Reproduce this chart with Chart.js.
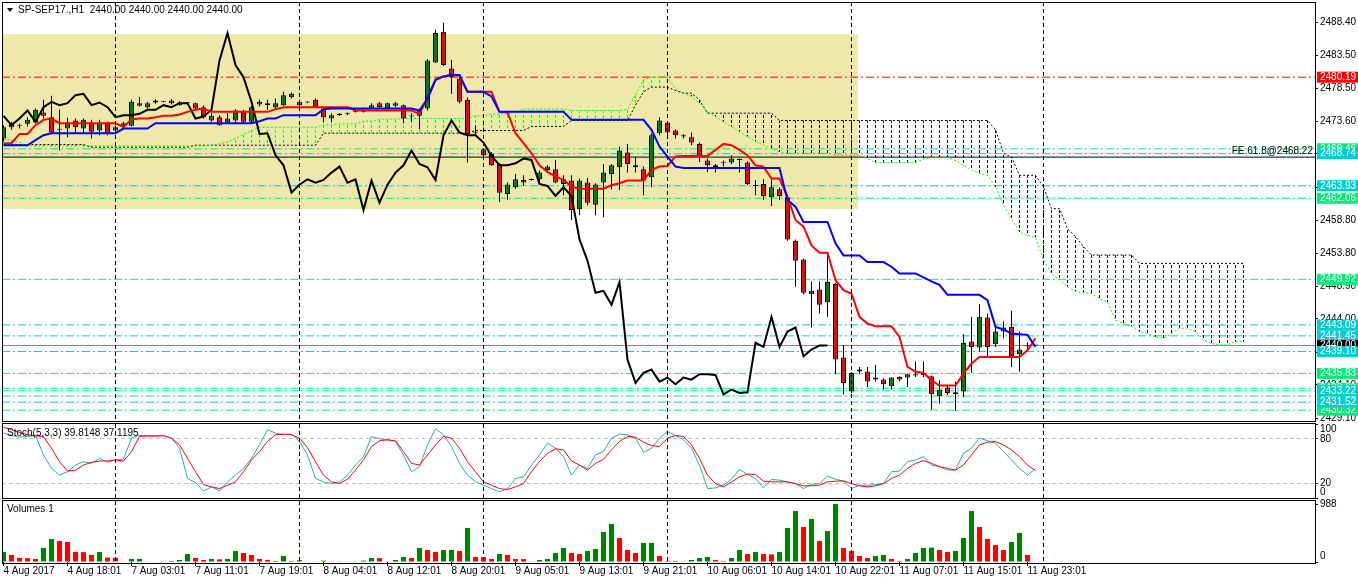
<!DOCTYPE html>
<html><head><meta charset="utf-8">
<script src="https://cdn.jsdelivr.net/npm/chart.js@4.4.0/dist/chart.umd.min.js"></script>
<style>
html,body{margin:0;padding:0;background:#fff;}
#wrap{position:relative;width:1358px;height:584px;overflow:hidden;background:#fff;font-family:'Liberation Sans',Arial,sans-serif;}
canvas{position:absolute;left:0;}
.frame{position:absolute;box-sizing:border-box;border:1px solid #000;pointer-events:none;}
.lbl{position:absolute;font-size:10px;line-height:13px;color:#000;white-space:pre;}
.tri{position:absolute;left:7px;top:8px;width:0;height:0;border-left:3px solid transparent;border-right:3px solid transparent;border-top:4px solid #000;}
</style></head><body>
<div id="wrap">
<canvas id="cMain" width="1358" height="425" style="top:0px"></canvas>
<canvas id="cStoch" width="1358" height="80" style="top:421px"></canvas>
<canvas id="cVol" width="1358" height="85" style="top:499px"></canvas>
<div class="frame" style="left:2px;top:2px;width:1314px;height:420px"></div>
<div class="frame" style="left:2px;top:423px;width:1314px;height:76px"></div>
<div class="frame" style="left:2px;top:500px;width:1314px;height:64px"></div>
<div class="tri"></div>
<div class="lbl" style="left:18px;top:3px">SP-SEP17.,H1  2440.00 2440.00 2440.00 2440.00</div>
<div class="lbl" style="right:45px;top:144px">FE 61.8@2468.22</div>
<div class="lbl" style="left:7px;top:426px">Stoch(5,3,3) 39.8148 37.1195</div>
<div class="lbl" style="left:7px;top:502px">Volumes 1</div>
</div>
<script>
// ---------------- DATA ----------------
const opens = [2471.0,2473.2,2472.9,2473.2,2473.4,2474.9,2474.2,2472.3,2472.5,2473.7,
2472.5,2473.4,2472.2,2473.4,2472.2,2472.9,2472.9,2476.3,2475.7,2476.4,
2476.5,2476.7,2476.4,2476.3,2476.3,2475.7,2473.7,2474.2,2473.4,2473.7,
2475.0,2473.5,2476.1,2476.3,2475.7,2476.0,2477.2,2476.5,2476.4,2476.8,
2475.5,2474.0,2474.7,2474.7,2475.0,2475.0,2475.5,2476.3,2475.5,2475.9,
2476.0,2474.3,2474.4,2475.5,2482.4,2487.0,2481.5,2480.0,2476.8,2471.8,
2469.4,2468.7,2467.2,2462.7,2463.7,2464.8,2464.8,2464.9,2466.3,2466.4,
2464.2,2464.7,2460.4,2464.4,2461.1,2464.4,2465.7,2466.7,2468.9,2467.0,
2466.4,2465.2,2471.8,2473.4,2472.2,2471.3,2471.2,2470.2,2467.7,2466.7,
2467.3,2467.4,2467.8,2467.4,2463.9,2464.2,2462.2,2463.4,2462.2,2455.7,
2452.9,2447.7,2448.4,2446.5,2449.2,2438.2,2433.1,2436.1,2436.1,2434.9,
2434.9,2433.9,2435.3,2435.2,2435.5,2435.9,2435.4,2432.4,2433.7,2432.7,
2433.1,2440.6,2439.7,2444.2,2440.2,2442.1,2442.8,2438.7,2439.9,2440.0];
const highs = [2473.0,2473.5,2473.2,2474.2,2475.5,2476.8,2477.4,2475.3,2474.1,2474.0,
2474.0,2473.8,2473.8,2473.5,2472.9,2473.5,2476.8,2477.2,2476.5,2476.9,
2476.6,2476.9,2476.6,2476.4,2476.4,2476.0,2474.8,2474.5,2474.8,2475.4,
2475.3,2475.9,2476.8,2476.8,2477.0,2478.0,2477.9,2476.8,2476.5,2477.0,
2475.7,2474.8,2474.8,2474.9,2475.5,2475.5,2476.3,2476.5,2476.4,2476.5,
2476.1,2474.8,2475.5,2482.9,2487.3,2488.35,2482.8,2480.2,2477.2,2473.0,
2469.6,2469.0,2467.3,2464.4,2465.7,2465.5,2465.0,2466.2,2467.0,2467.8,
2465.5,2465.5,2465.0,2465.1,2464.3,2467.2,2467.2,2469.8,2470.2,2468.3,
2466.8,2471.8,2474.2,2473.5,2472.4,2471.7,2471.9,2470.4,2468.0,2467.2,
2467.7,2468.5,2468.0,2467.6,2464.8,2464.9,2464.9,2463.7,2462.4,2455.9,
2453.0,2449.6,2449.6,2453.6,2449.4,2440.1,2436.0,2436.8,2436.8,2437.1,
2435.1,2435.3,2435.4,2435.8,2437.6,2437.6,2435.5,2434.8,2434.1,2434.6,
2441.7,2444.3,2446.2,2444.8,2442.8,2443.6,2445.2,2442.1,2440.5,2440.0];
const lows = [2470.6,2472.3,2472.5,2472.8,2473.3,2474.0,2471.8,2469.2,2471.2,2471.8,
2471.8,2471.0,2471.5,2471.5,2472.0,2472.7,2472.8,2475.8,2475.5,2476.2,
2476.4,2476.1,2475.9,2476.2,2475.3,2474.0,2473.5,2472.9,2473.3,2473.2,
2473.2,2473.3,2475.8,2475.3,2475.5,2475.9,2477.0,2475.8,2476.3,2475.6,
2473.4,2473.4,2474.4,2474.5,2474.9,2474.9,2475.4,2475.5,2475.4,2475.7,
2473.3,2473.5,2472.4,2475.2,2482.3,2481.9,2477.7,2476.3,2467.4,2471.5,
2468.3,2466.9,2461.5,2461.8,2463.5,2463.9,2464.7,2464.3,2466.0,2464.3,
2462.5,2458.8,2459.5,2461.0,2459.5,2459.2,2463.4,2463.3,2465.9,2465.9,
2462.5,2463.7,2471.5,2471.4,2471.0,2471.0,2470.0,2467.5,2466.0,2465.9,
2466.8,2467.2,2465.9,2464.0,2462.5,2461.8,2460.9,2461.8,2455.7,2448.8,
2447.7,2442.7,2444.8,2444.3,2435.7,2432.7,2432.9,2435.7,2433.8,2434.6,
2433.4,2433.4,2434.6,2433.8,2435.3,2435.3,2430.4,2431.3,2432.6,2430.2,
2432.3,2435.9,2439.1,2438.3,2439.8,2441.1,2436.8,2436.1,2439.5,2440.0];
const closes = [2472.7,2472.7,2472.9,2473.8,2475.3,2474.4,2471.9,2472.3,2473.4,2472.7,
2473.8,2472.0,2473.3,2471.8,2472.7,2473.3,2476.5,2475.9,2476.3,2476.7,
2476.5,2476.3,2476.0,2476.3,2475.5,2474.2,2474.4,2473.0,2474.0,2475.2,
2473.5,2475.7,2476.5,2476.0,2476.3,2477.5,2477.7,2476.0,2476.4,2475.7,
2474.2,2474.5,2474.5,2474.7,2475.3,2475.3,2476.0,2475.7,2476.3,2476.3,
2474.0,2474.3,2475.3,2482.7,2486.8,2482.0,2480.2,2476.5,2471.7,2471.8,
2468.5,2467.0,2462.9,2464.1,2464.9,2464.4,2464.8,2465.9,2466.8,2464.4,
2464.9,2460.3,2464.7,2461.4,2464.1,2465.9,2467.0,2469.2,2467.2,2466.7,
2464.8,2471.5,2473.7,2471.9,2471.5,2471.5,2470.4,2468.4,2467.0,2467.0,
2467.3,2468.0,2467.8,2464.2,2463.9,2462.4,2463.7,2462.4,2455.9,2452.7,
2447.9,2448.2,2446.1,2449.5,2437.9,2434.4,2435.9,2436.4,2434.6,2435.2,
2434.2,2435.2,2434.9,2435.7,2435.7,2435.6,2432.7,2433.4,2432.9,2433.0,
2440.4,2439.8,2444.3,2439.8,2442.1,2442.7,2438.4,2439.4,2440.0,2440.0];

const tenkan = [2470.3,2470.3,2471.7,2471.7,2473.0,2473.8,2474.0,
2473.3,2473.3,2473.3,2473.3,2473.3,2473.3,2473.3,2473.3,
2472.7,2473.9,2474.0,2474.0,2474.2,2474.4,2474.4,2474.6,2475.0,2475.3,2475.5,
2475.0,2475.0,2475.0,2475.0,2475.0,2475.0,2475.0,2475.0,
2475.4,
2475.7,2475.7,2475.7,2475.7,2475.7,2475.7,2475.7,2475.7,2475.7,
2475.2,2475.2,2475.2,2475.2,2475.2,2475.2,2475.2,2475.2,
2474.7,2477.0,2479.8,2480.3,2480.5,2480.4,
2478.0,2478.0,2478.0,2478.0,
2475.0,2474.9,2471.8,2470.3,2468.8,2467.0,2466.0,2465.3,2464.8,2463.8,
2463.5,2463.5,2463.5,2463.5,
2464.0,2464.3,
2464.7,2464.7,2464.7,
2466.3,2466.8,2466.9,2468.3,
2468.4,2468.4,2468.4,2468.4,
2469.3,2470.2,2470.0,2469.3,2468.5,2467.0,2466.8,2465.0,2465.0,2462.3,
2458.8,2457.8,2455.0,2453.9,2453.9,2449.8,2448.3,2447.8,2444.3,2443.3,
2442.9,2442.9,2442.9,
2441.3,2436.8,2436.1,2435.9,2434.8,
2434.0,2434.0,2434.0,
2435.8,2437.3,
2438.3,2438.3,2438.3,2438.3,2438.3,2438.3,
2439.3,2441.1];

const kijun = [2470.0,2470.0,2470.0,2470.0,2470.75,2471.5,
2471.8,2471.8,2471.8,2471.8,2471.8,2471.8,2471.8,2471.8,2471.8,
2472.5,2472.5,2472.5,2472.5,
2473.3,2473.3,2473.3,2473.3,2473.3,2473.3,2473.3,2473.3,2473.3,2473.3,2473.3,2473.3,2473.3,
2473.6,2474.0,2474.0,
2474.5,2474.5,2474.5,2474.5,2474.5,
2475.4,
2475.5,2475.5,2475.5,2475.5,2475.5,2475.5,2475.5,2475.5,2475.5,2475.5,2475.5,
2475.2,2477.0,2479.8,2480.3,2480.5,2480.5,
2478.0,2478.0,2478.0,2477.3,
2475.0,2475.0,2475.0,2475.0,2475.0,2475.0,2475.0,2475.0,2475.0,
2473.8,2473.8,2473.8,2473.8,2473.8,2473.8,2473.8,2473.8,2473.8,2473.8,
2472.3,2469.8,2468.3,2466.8,
2466.6,2466.6,2466.6,2466.6,2466.6,2466.6,2466.6,2466.6,2466.6,2466.6,2466.6,2466.6,2466.6,
2461.8,2460.8,
2458.5,2458.5,2458.5,2458.5,
2455.3,2453.5,2453.5,2453.5,
2452.5,2452.5,2452.5,2451.8,
2450.8,2450.8,2450.8,2450.2,2449.6,2449.1,
2447.6,2447.6,2447.6,2447.6,2447.6,
2446.8,2442.8,2442.4,2441.8,2441.7,2441.6,2439.8];

const spanA = [2470.8,2470.8,2470.4,
2469.9,2469.9,2469.9,2469.9,2469.9,2469.9,2469.9,2469.9,2469.9,2469.9,2469.9,2469.9,
2469.9,2469.9,2469.9,2469.9,2469.9,2469.9,2469.9,2469.9,2469.9,2469.9,2469.9,
2470.0,2470.2,2470.5,2471.0,2471.6,2472.2,
2472.7,2472.7,2472.7,2472.7,2472.7,2472.7,2472.7,2472.7,
2473.0,2473.1,2473.2,2473.2,2473.2,2473.6,2473.6,2473.9,2473.9,2473.9,
2474.0,2474.0,2474.0,2474.0,2474.0,2474.0,2474.0,2474.0,2474.0,
2474.4,2474.4,2474.7,2474.7,2474.7,2475.0,
2475.4,2475.4,2475.4,2475.4,2475.4,2475.4,
2475.2,2475.2,2475.2,2475.2,2475.2,2475.2,2475.2,
2475.4,2477.5,2479.8,2480.2,2480.2,2480.2,
2478.4,2477.8,2477.3,2476.3,2475.0,2474.3,2473.5,2472.8,2472.0,2471.3,2470.6,2470.0,2469.5,2469.0,
2468.8,2468.8,2468.8,2468.8,2468.8,2468.8,
2468.5,2468.5,2468.5,2468.5,2468.0,
2467.4,2467.4,2467.4,2467.4,2467.4,2467.4,
2467.9,2468.2,2468.2,2468.2,
2467.7,2467.0,2466.3,2465.8,2465.5,2463.8,2461.0,2459.0,2457.0,2456.5,2456.2,
2452.8,2450.8,2449.8,2448.8,2448.1,2447.9,2447.8,2447.0,2446.5,2443.8,
2443.3,2442.9,2442.1,2441.8,2441.3,2441.1,2441.8,2442.6,2442.6,2442.1,
2440.8,2440.3,2440.1,2440.1,2440.6,2440.6];

const spanB = [2470.1,2470.1,2470.1,2470.1,2470.1,2470.1,2470.1,2470.1,2470.1,2470.1,2470.1,
2469.7,2469.7,2469.7,2469.7,2469.7,2469.7,2469.7,2469.7,2469.7,2469.7,2469.7,2469.7,2469.7,
2470.0,2470.0,2470.0,2470.0,2470.0,2470.0,2470.0,2470.0,2470.0,2470.0,2470.0,2470.0,2470.0,2470.0,2470.0,2470.0,
2471.8,2471.8,2471.8,2471.8,2471.8,2471.8,2471.8,2471.8,2471.8,2471.8,
2471.8,2471.8,2471.8,2471.8,2471.8,2471.8,2471.8,2471.8,2471.8,
2472.2,2472.2,2472.2,2472.2,2472.2,2472.2,2472.2,
2472.8,2472.8,2472.8,2472.8,2472.8,
2473.7,2473.7,2473.7,2473.7,2473.7,2473.7,2473.7,2473.7,
2476.0,2478.0,2478.7,2478.7,2478.7,2478.2,2477.8,2477.8,2476.8,
2474.8,2474.8,2474.8,2474.8,2474.8,2474.8,2474.8,2474.8,2474.8,
2473.7,2473.7,2473.7,2473.7,2473.7,2473.7,2473.7,2473.7,2473.7,2473.7,
2473.7,2473.7,2473.7,2473.7,2473.7,2473.7,2473.7,2473.7,2473.7,2473.7,
2473.7,2473.7,2473.7,2473.7,2473.7,2473.7,2473.7,
2472.3,2468.8,2468.2,2465.5,2465.5,2465.5,2463.8,2460.5,2460.5,2457.5,2456.3,2454.8,
2453.55,2453.55,2453.55,2453.55,2453.55,2453.55,
2452.3,2452.3,2452.3,2452.3,2452.3,2452.3,2452.3,2452.3,2452.3,2452.3,2452.3,2452.3,2452.3,2452.3];

const stochK = [87.7,84.5,82.3,83.2,84.5,58.2,40.0,30.9,35.5,44.5,
49.1,46.8,53.6,48.2,51.4,52.7,80.9,84.5,84.5,84.1,
84.5,80.9,67.3,26.4,20.9,9.5,15.0,9.5,21.8,30.9,
40.0,53.6,71.8,92.3,87.7,85.5,86.4,76.4,58.2,26.4,
21.8,19.5,21.8,30.9,44.5,55.9,83.2,80.0,78.6,76.4,
58.2,35.5,42.3,71.8,93.6,85.5,69.5,46.8,30.9,21.8,
17.3,12.7,8.2,12.7,26.4,28.6,44.5,58.2,74.1,67.3,
55.9,30.9,44.5,40.0,58.2,62.7,80.9,86.4,85.5,80.9,
61.8,67.3,80.9,90.0,84.5,78.6,67.3,44.5,12.7,13.6,
17.3,25.5,38.6,31.8,26.4,13.6,25.0,24.1,21.8,19.5,
12.7,18.6,19.5,29.5,25.5,22.7,12.7,17.3,17.3,18.2,
19.5,35.5,36.4,49.1,51.4,55.9,44.5,42.3,37.7,37.7,
60.5,67.3,80.9,77.3,74.1,62.7,51.4,40.0,30.9,39.8];
const stochD = [95.5,92.3,88.6,85.5,84.1,82.7,67.3,49.1,36.4,37.7,
44.5,48.2,50.0,50.0,51.4,50.0,62.7,83.2,83.6,83.6,
84.1,80.9,71.8,53.6,35.5,18.2,15.0,12.7,17.3,21.8,
35.5,51.4,62.7,76.4,85.5,86.4,85.5,80.9,68.2,49.1,
30.9,21.8,19.5,25.5,37.7,51.4,69.5,77.3,78.6,77.3,
62.7,46.8,44.5,58.2,71.8,83.2,80.9,67.3,49.1,35.5,
21.8,17.3,12.7,11.4,15.0,19.5,35.5,49.1,60.5,66.4,
65.0,50.0,44.5,37.7,46.8,52.3,65.0,76.4,83.2,82.3,
75.5,70.9,69.5,80.9,84.5,83.2,71.8,53.6,30.9,19.5,
15.0,21.8,28.6,32.3,31.8,22.7,21.8,21.8,21.8,19.5,
16.4,16.4,17.3,21.8,22.7,23.2,19.5,16.4,15.0,16.4,
19.5,26.4,30.9,40.0,46.8,50.5,46.8,42.3,40.0,37.7,
44.5,58.2,71.8,75.5,76.4,71.8,65.0,55.9,44.5,37.1];

const volumes = [170,119,70,66,51,239,392,358,341,172,
168,119,170,76,72,10,51,53,10,8,
6,17,34,136,68,34,51,45,51,187,
153,119,51,34,17,102,17,30,8,11,
23,11,12,6,7,23,68,66,11,34,
85,68,239,204,170,204,206,187,580,85,
83,51,136,119,51,49,11,34,51,153,
239,153,136,187,221,511,648,409,204,153,
324,326,102,17,19,11,34,68,85,34,
17,68,204,136,170,136,130,170,580,869,
596,733,358,528,988,239,187,102,68,102,
119,51,17,51,153,239,245,204,170,187,
409,869,596,392,290,204,341,494,119,8];

const timeLabels = ['4 Aug 2017','4 Aug 18:01','7 Aug 03:01','7 Aug 11:01','7 Aug 19:01','8 Aug 04:01',
'8 Aug 12:01','8 Aug 20:01','9 Aug 05:01','9 Aug 13:01','9 Aug 21:01','10 Aug 06:01',
'10 Aug 14:01','10 Aug 22:01','11 Aug 07:01','11 Aug 15:01','11 Aug 23:01'];
const labelBars = [0,8,16,24,32,40,48,56,64,72,80,88,96,104,112,120,128];
const gridBars = [14,37,60,83,106,130];
const priceTicks = [2488.40,2483.50,2478.50,2473.60,2468.70,2463.70,2458.80,2453.80,2448.90,2444.00,2439.00,2434.10,2429.10];
const levelPrices = [2480.19,2469.46,2468.74,2463.93,2462.06,2449.92,2443.09,2441.45,2440.00,2439.10,2435.83,2433.60,2432.44,2430.32,2433.22,2431.52];
const levelKinds  = ['R','G','C','C','G','G','C','C','P','C','G','G','G','G','C','C'];
const feLevel = 2468.22;
const zoneBars = [-0.19, 106.8];
const zonePrices = [2486.66, 2460.45];
const stochTicks = [100,80,20,0];
const stochLevels = [80,20];
const volTicks = [988,0];

// ---------------- STYLE ----------------
const X_MIN = -0.1875, X_MAX = 163.9375;
const FONT = {family:"'Liberation Sans', Arial, sans-serif", size:10, lineHeight:1.1};
const GREEN = '#008000', RED = '#FF0000';
const LEVEL_STYLE = {
  R:{line:'#FF0000', box:'#FF0000', dash:[8,3,2,3]},
  G:{line:'#00EE76', box:'#00EE76', dash:[8,3,2,3]},
  C:{line:'#00CED1', box:'#00CED1', dash:[8,3,2,3]},
  P:{line:'#778899', box:'#000000', dash:[]}
};
Chart.defaults.font.family = FONT.family;
Chart.defaults.font.size = 10;

function pattern(color){
  const c = document.createElement('canvas'); c.width = 1; c.height = 5;
  const g = c.getContext('2d'); g.fillStyle = color; g.fillRect(0,0,1,3);
  return g.createPattern(c, 'repeat');
}
const patG = pattern('#00FF00'), patK = pattern('#000000');

function zeroPad(s){ s.paddingLeft = 0; s.paddingRight = 0; s.paddingTop = 0; s.paddingBottom = 0; }
function gridAxis(){
  return {type:'linear', axis:'x', position:'bottom', min:X_MIN, max:X_MAX, offset:false, display:true,
    ticks:{display:false},
    grid:{display:true, drawOnChartArea:true, drawTicks:false, color:'#000', lineWidth:1, offset:false, z:1},
    border:{display:false, dash:[4,3]},
    afterBuildTicks: s => { s.ticks = gridBars.map(v => ({value:v})); },
    afterFit: s => { s.height = 0; zeroPad(s); }
  };
}
const baseOpts = {responsive:false, animation:false, devicePixelRatio:1, events:[],
  plugins:{legend:{display:false}, tooltip:{enabled:false}}};

const idx = opens.map((_, i) => i);

// ---------------- MAIN CHART ----------------
const mainDatasets = [];
mainDatasets.push({type:'line', data:[{x:zoneBars[0], y:zonePrices[0]},{x:zoneBars[1], y:zonePrices[0]}],
  borderWidth:0, pointRadius:0, fill:{value:zonePrices[1]}, backgroundColor:'#EEE8AA', order:100});
levelPrices.forEach((p, k) => {
  const st = LEVEL_STYLE[levelKinds[k]];
  mainDatasets.push({type:'line', data:[{x:X_MIN, y:p},{x:X_MAX, y:p}], borderColor:st.line, borderWidth:1,
    borderDash:st.dash, pointRadius:0, fill:false, order:90});
});
mainDatasets.push({type:'line', data:[{x:X_MIN, y:feLevel},{x:X_MAX, y:feLevel}], borderColor:'#000', borderWidth:1,
  pointRadius:0, fill:false, order:89});
mainDatasets.push({type:'bar', data:spanA.map((a, i) => ({x:i, y:[a, spanB[i]]})), barThickness:1, inflateAmount:0,
  borderWidth:0, grouped:false,
  backgroundColor: c => (c.dataIndex === undefined || spanA[c.dataIndex] > spanB[c.dataIndex]) ? patG : patK, order:80});
mainDatasets.push({type:'line', data:spanA.map((v, i) => ({x:i, y:v})), borderColor:'#00FF00', borderWidth:1, borderDash:[2,2], pointRadius:0, fill:false, order:70});
mainDatasets.push({type:'line', data:spanB.map((v, i) => ({x:i, y:v})), borderColor:'#000', borderWidth:1, borderDash:[2,2], pointRadius:0, fill:false, order:71});
mainDatasets.push({type:'bar', data:idx.map(i => ({x:i, y:[lows[i], highs[i]]})), barThickness:1, inflateAmount:0,
  borderWidth:0, grouped:false, backgroundColor:'#000', order:51});
mainDatasets.push({type:'bar', data:idx.map(i => ({x:i, y:[opens[i], closes[i]]})), barThickness:5, inflateAmount:0,
  borderWidth:1, borderColor:'#000', borderSkipped:false, minBarLength:1, grouped:false,
  backgroundColor: c => { const i = c.dataIndex; if (i === undefined) return GREEN; return closes[i] > opens[i] ? GREEN : (closes[i] < opens[i] ? RED : '#000'); },
  order:50});
mainDatasets.push({type:'line', data:closes.slice(26).map((v, i) => ({x:i, y:v})), borderColor:'#000', borderWidth:2, pointRadius:0, fill:false, order:12});
mainDatasets.push({type:'line', data:tenkan.map((v, i) => ({x:i, y:v})), borderColor:'#FF0000', borderWidth:2, pointRadius:0, fill:false, order:11});
mainDatasets.push({type:'line', data:kijun.map((v, i) => ({x:i, y:v})), borderColor:'#0000FF', borderWidth:2, pointRadius:0, fill:false, order:10});

const nP = priceTicks.length;
new Chart(document.getElementById('cMain'), {
  type:'bar',
  data:{datasets:mainDatasets},
  options:Object.assign({}, baseOpts, {
    layout:{padding:{left:2, top:2, right:0, bottom:4}},
    scales:{
      x: gridAxis(),
      y: {type:'linear', position:'right', min:2428.70, max:2491.45,
        afterBuildTicks: s => { s.ticks = priceTicks.map(v => ({value:v})).concat(levelPrices.map(v => ({value:v}))); },
        afterFit: s => { s.width = 43; zeroPad(s); },
        grid:{drawOnChartArea:false, drawTicks:true, tickLength:3, tickWidth:1,
          tickColor: c => c.index < nP ? '#000' : 'rgba(0,0,0,0)'},
        border:{display:false},
        ticks:{autoSkip:false, padding:2, font:FONT, crossAlign:'near',
          color: c => c.index < nP ? '#000' : '#FFF',
          showLabelBackdrop: true,
          backdropColor: c => c.index < nP ? 'rgba(0,0,0,0)' : LEVEL_STYLE[levelKinds[c.index - nP]].box,
          backdropPadding:{left:3, right:3, top:0, bottom:0},
          callback: v => Number(v).toFixed(2)}
      }
    }
  })
});

// ---------------- STOCHASTIC ----------------
new Chart(document.getElementById('cStoch'), {
  type:'line',
  data:{datasets:[
    {data:stochD.map((v, i) => ({x:i, y:v})), borderColor:'#FF0000', borderWidth:1, pointRadius:0, fill:false, order:1},
    {data:stochK.map((v, i) => ({x:i, y:v})), borderColor:'#20B2AA', borderWidth:1, pointRadius:0, fill:false, order:2}
  ]},
  options:Object.assign({}, baseOpts, {
    layout:{padding:{left:2, top:3, right:0, bottom:3}},
    scales:{
      x: gridAxis(),
      y: {type:'linear', position:'right', min:0, max:100,
        afterBuildTicks: s => { s.ticks = stochTicks.map(v => ({value:v})); },
        afterFit: s => { s.width = 43; zeroPad(s); },
        grid:{drawOnChartArea:true, drawTicks:true, tickLength:3, tickColor:'#000',
          color: c => (c.tick && stochLevels.indexOf(c.tick.value) >= 0) ? '#C0C0C0' : 'rgba(0,0,0,0)'},
        border:{display:false, dash:[4,3]},
        ticks:{autoSkip:false, padding:2, font:FONT, color:'#000', crossAlign:'near',
          callback: v => v === 100 ? ['', '100'] : (v === 0 ? ['0', ''] : String(v))}
      }
    }
  })
});

// ---------------- VOLUMES ----------------
const vx = gridAxis(); vx.axis = 'x';
new Chart(document.getElementById('cVol'), {
  type:'bar',
  data:{datasets:[{data:volumes.map((v, i) => ({x:i, y:v})), barThickness:5, inflateAmount:0, borderWidth:0, grouped:false,
    backgroundColor: c => { const i = c.dataIndex; if (!i) return GREEN; return volumes[i] > volumes[i-1] ? GREEN : RED; }}]},
  options:Object.assign({}, baseOpts, {
    layout:{padding:{left:2, top:2, right:0, bottom:0}},
    scales:{
      x: {type:'linear', position:'bottom', min:X_MIN, max:X_MAX, offset:false,
        afterBuildTicks: s => { s.ticks = labelBars.map(v => ({value:v})); },
        afterFit: s => { s.height = 22; zeroPad(s); },
        grid:{drawOnChartArea:false, drawTicks:true, tickLength:4, tickColor:'#000', offset:false},
        border:{display:false},
        ticks:{autoSkip:false, maxRotation:0, minRotation:0, align:'start', padding:0, font:FONT, color:'#000',
          callback: (v, k) => timeLabels[k]}
      },
      xg: vx,
      y: {type:'linear', position:'right', min:0, max:1040,
        afterBuildTicks: s => { s.ticks = volTicks.map(v => ({value:v})); },
        afterFit: s => { s.width = 43; zeroPad(s); },
        grid:{drawOnChartArea:false, drawTicks:true, tickLength:3, tickColor:'#000'},
        border:{display:false},
        ticks:{autoSkip:false, padding:2, font:FONT, color:'#000', crossAlign:'near',
          callback: v => v === 0 ? ['0', ''] : String(v)}
      }
    }
  })
});
</script>
</body></html>
